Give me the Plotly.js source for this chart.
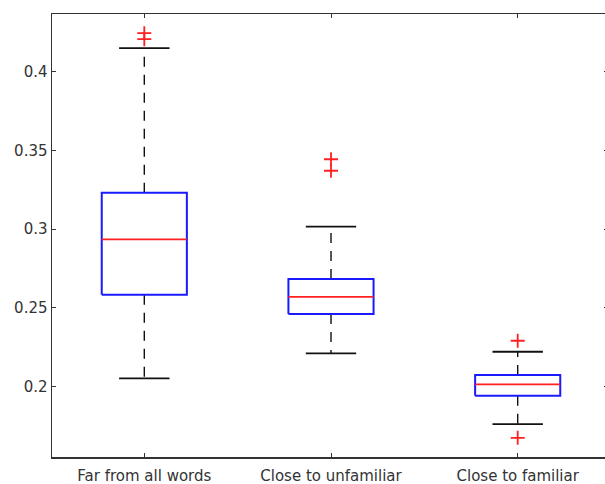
<!DOCTYPE html>
<html>
<head>
<meta charset="utf-8">
<script src="https://cdn.plot.ly/plotly-3.0.1.min.js"></script>
<style>html,body{margin:0;padding:0;background:#fff;overflow:hidden;}#chart{width:608px;height:484px;}</style>
</head>
<body>
<div id="chart"></div>
<script>
// ---- data ----
const categories = ["Far from all words", "Close to unfamiliar", "Close to familiar"];
const q1Values     = [0.2584, 0.2462, 0.1943];
const medianValues = [0.2936, 0.2571, 0.2015];
const q3Values     = [0.3232, 0.2684, 0.2074];
const lowerWhisker = [0.2053, 0.2212, 0.1763];
const upperWhisker = [0.4149, 0.3016, 0.2222];
const outlierGroup = [1, 1, 2, 2, 3, 3];
const outlierValues = [0.4244, 0.4206, 0.3444, 0.3371, 0.2292, 0.1676];
const yTickVals = [0.2, 0.25, 0.3, 0.35, 0.4];
const yTickText = ["0.2", "0.25", "0.3", "0.35", "0.4"];

// ---- geometry (style) ----
const boxHalf = 0.228;
const capHalf = 0.135;
const xPos = categories.map((_, i) => i + 1);

const boxX = [], boxY = [], medX = [], medY = [], whX = [], whY = [], capX = [], capY = [];
xPos.forEach((x, i) => {
  boxX.push(x - boxHalf, x + boxHalf, x + boxHalf, x - boxHalf, x - boxHalf, null);
  boxY.push(q1Values[i], q1Values[i], q3Values[i], q3Values[i], q1Values[i], null);
  medX.push(x - boxHalf, x + boxHalf, null);
  medY.push(medianValues[i], medianValues[i], null);
  whX.push(x, x, null, x, x, null);
  whY.push(q3Values[i], upperWhisker[i], null, q1Values[i], lowerWhisker[i], null);
  capX.push(x - capHalf, x + capHalf, null, x - capHalf, x + capHalf, null);
  capY.push(upperWhisker[i], upperWhisker[i], null, lowerWhisker[i], lowerWhisker[i], null);
});

const traces = [
  {x: whX, y: whY, mode: "lines", line: {color: "#111", width: 1.4, dash: "10px,8px"}, hoverinfo: "skip"},
  {x: capX, y: capY, mode: "lines", line: {color: "#111", width: 1.8}, hoverinfo: "skip"},
  {x: boxX, y: boxY, mode: "lines", line: {color: "#1a1aff", width: 2}, hoverinfo: "skip"},
  {x: medX, y: medY, mode: "lines", line: {color: "#ff2020", width: 1.8}, hoverinfo: "skip"},
  {x: outlierGroup, y: outlierValues, mode: "markers",
   marker: {symbol: "cross-thin-open", size: 10, color: "#ff2020", line: {color: "#ff2020", width: 1.8}}}
];

const layout = {
  width: 608, height: 484,
  margin: {l: 52, r: 0, t: 14, b: 27, pad: 0},
  paper_bgcolor: "#fff", plot_bgcolor: "#fff",
  showlegend: false,
  font: {family: "DejaVu Sans, sans-serif", size: 15, color: "#333"},
  xaxis: {
    range: [0.5056, 3.4837], tickvals: xPos, ticktext: categories,
    showgrid: false, zeroline: false, showline: true, linecolor: "#333", linewidth: 1.5,
    mirror: "ticks", ticks: "inside", ticklen: 4, tickcolor: "#333", tickwidth: 1,
    ticklabelstandoff: 4,
    tickfont: {family: "DejaVu Sans, sans-serif", size: 15, color: "#333"}
  },
  yaxis: {
    range: [0.1554, 0.4366], tickvals: yTickVals, ticktext: yTickText,
    showgrid: false, zeroline: false, showline: true, linecolor: "#333", linewidth: 1.5,
    mirror: "ticks", ticks: "inside", ticklen: 4, tickcolor: "#333", tickwidth: 1,
    tickfont: {family: "DejaVu Sans, sans-serif", size: 15, color: "#333"}
  }
};

Plotly.newPlot("chart", traces, layout, {staticPlot: true, displayModeBar: false});
</script>
</body>
</html>
